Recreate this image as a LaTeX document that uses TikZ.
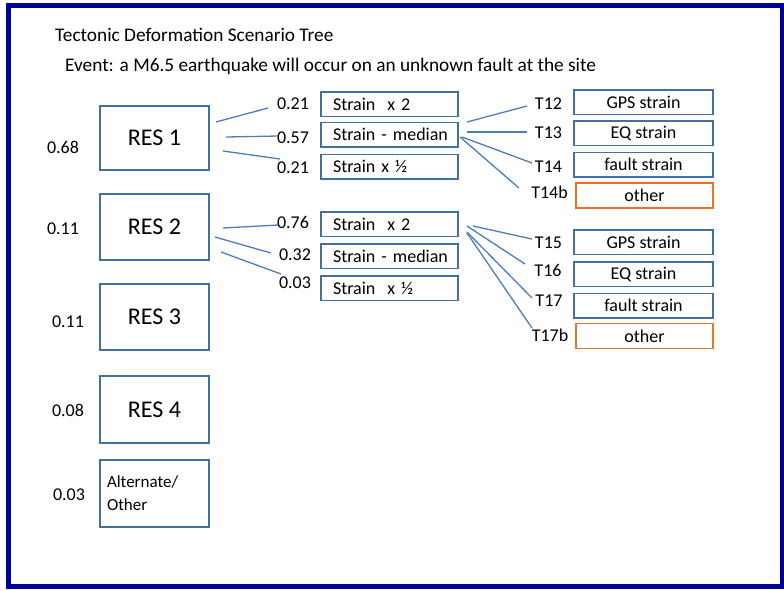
\documentclass[tikz,border=0pt]{standalone}
\usepackage{fontspec}
\setmainfont{Carlito}
\definecolor{frameblue}{HTML}{000099}
\definecolor{boxblue}{HTML}{41719C}
\definecolor{connblue}{HTML}{4A7EBB}
\definecolor{boxorange}{HTML}{F07022}
\tikzset{
  fs/.style={font=\fontsize{#1}{#1}\selectfont},
  resbox/.style={draw=boxblue, line width=1.5pt, minimum width=109pt, inner sep=0pt, fs=24},
  sbox/.style={draw=boxblue, line width=1.5pt, minimum width=137pt, minimum height=24.5pt, inner xsep=12pt, inner ysep=0pt, text width=113pt, align=left, fs=18},
  tbox/.style={draw=boxblue, line width=1.5pt, minimum width=139pt, minimum height=24.5pt, inner sep=0pt, fs=18},
  obox/.style={draw=boxorange, line width=1.6pt, minimum width=137pt, minimum height=25pt, inner sep=0pt, fs=18},
  lab/.style={inner sep=0pt, fs=18},
  conn/.style={draw=connblue, line width=1.3pt},
}
\begin{document}
\begin{tikzpicture}[x=1pt, y=-1pt]
\useasboundingbox (0,0) rectangle (784,590);
\draw[frameblue, line width=5pt] (8.5,5.5) rectangle (782.5,586.5);

\node[anchor=base west, inner sep=0pt, fs=19.3] (title) at (55,41.5) {Tectonic Deformation Scenario Tree};
\node[anchor=base west, inner sep=0pt, fs=19.3] (event) at (65,71.5) {Event: a M6.5 earthquake will occur on an unknown fault at the site};

% RES boxes
\node[resbox, minimum height=64pt] (res1) at (154.5,138) {RES 1};
\node[resbox, minimum height=66pt] (res2) at (154.5,227) {RES 2};
\node[resbox, minimum height=66pt] (res3) at (154.5,317) {RES 3};
\node[resbox, minimum height=67pt] (res4) at (154.5,409.5) {RES 4};
\node[resbox, minimum height=67pt, font=\fontsize{17}{23}\selectfont, align=left, text width=95pt] (alt) at (154.5,493.5) {Alternate/\\Other};

% left probabilities
\node[lab] (pr1) at (63,147) {0.68};
\node[lab] (pr2) at (63,229) {0.11};
\node[lab] (pr3) at (68,322) {0.11};
\node[lab] (pr4) at (68,410) {0.08};
\node[lab] (pr5) at (69,495) {0.03};

% strain boxes
\node[sbox] (s1) at (389.5,104) {\mbox{Strain\ \ x 2}};
\node[sbox] (s2) at (389.5,134.5) {\mbox{Strain - median}};
\node[sbox] (s3) at (389.5,166.5) {\mbox{Strain x ½}};
\node[sbox] (s4) at (389.5,224) {\mbox{Strain\ \ x 2}};
\node[sbox] (s5) at (389.5,256) {\mbox{Strain - median}};
\node[sbox] (s6) at (389.5,288) {\mbox{Strain\ \ x ½}};

% middle probabilities
\node[lab] (q1) at (293,104) {0.21};
\node[lab] (q2) at (293,138) {0.57};
\node[lab] (q3) at (293,168) {0.21};
\node[lab] (q4) at (293,222) {0.76};
\node[lab] (q5) at (295,255) {0.32};
\node[lab] (q6) at (295,283) {0.03};

% T labels
\node[lab] (t12) at (548.5,104) {T12};
\node[lab] (t13) at (548.5,133) {T13};
\node[lab] (t14) at (548.5,167) {T14};
\node[lab] (t14b) at (549.5,192) {T14b};
\node[lab] (t15) at (548.5,243) {T15};
\node[lab] (t16) at (548,270) {T16};
\node[lab] (t17) at (549,301) {T17};
\node[lab] (t17b) at (550,335) {T17b};

% right boxes
\node[tbox] (g1) at (643.5,102) {GPS strain};
\node[tbox] (e1) at (643.5,133) {EQ strain};
\node[tbox] (f1) at (643.5,164.5) {fault strain};
\node[obox] (o1) at (644.5,195.5) {other};
\node[tbox] (g2) at (643.5,242) {GPS strain};
\node[tbox] (e2) at (643.5,274) {EQ strain};
\node[tbox] (f2) at (643.5,305.5) {fault strain};
\node[obox] (o2) at (644.5,336) {other};

% connector end points
\coordinate (a1) at (216,122); \coordinate (b1) at (268,108);
\coordinate (a2) at (226,137); \coordinate (b2) at (278,136);
\coordinate (a3) at (223,151); \coordinate (b3) at (280,159);
\coordinate (a4) at (223,228); \coordinate (b4) at (278,225);
\coordinate (a5) at (215,237); \coordinate (b5) at (271,253);
\coordinate (a6) at (221,252); \coordinate (b6) at (281,274);
\coordinate (c1) at (467,122); \coordinate (d1) at (527,106);
\coordinate (c2) at (467,132); \coordinate (d2) at (527,132);
\coordinate (c3) at (462,137); \coordinate (d3) at (532,163);
\coordinate (c4) at (460,137); \coordinate (d4) at (519,188);
\coordinate (c5) at (473,226); \coordinate (d5) at (532,239);
\coordinate (c6) at (467,226); \coordinate (d6) at (525,264);
\coordinate (c7) at (467,232); \coordinate (d7) at (532,298);
\coordinate (c8) at (467,233); \coordinate (d8) at (532,328);

\foreach \i in {1,...,6} {\draw[conn] (a\i) -- (b\i);}
\foreach \i in {1,...,8} {\draw[conn] (c\i) -- (d\i);}
\end{tikzpicture}
\end{document}
